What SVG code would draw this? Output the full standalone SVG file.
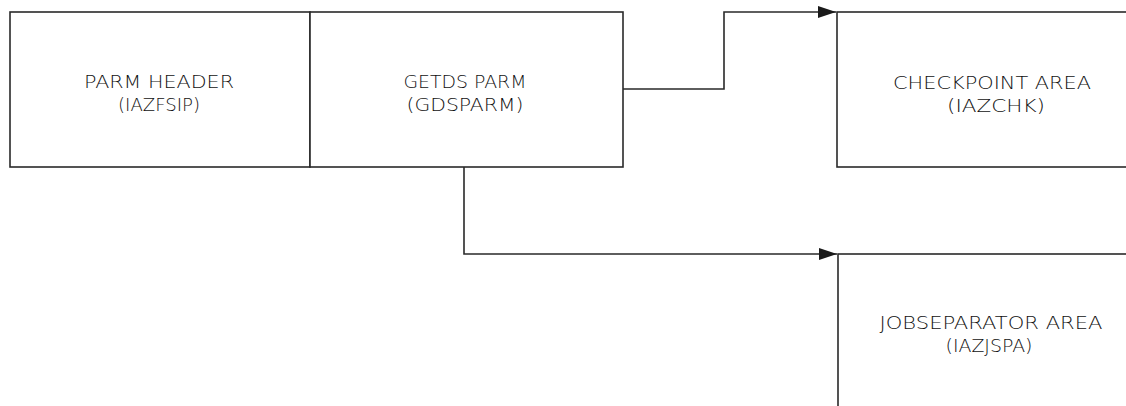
<svg xmlns="http://www.w3.org/2000/svg" width="1126" height="406" viewBox="0 0 1126 406">
<style>
.box{fill:#fff;stroke:#2a2a2a;stroke-width:1.6}
.conn{fill:none;stroke:#2a2a2a;stroke-width:1.6}
.lbl{font-family:"DejaVu Sans","Liberation Sans",sans-serif;font-weight:200;font-size:18.5px;fill:#111;text-anchor:middle}
</style>
<defs>
<marker id="arr" markerUnits="userSpaceOnUse" markerWidth="20" markerHeight="14" refX="18" refY="6" orient="auto">
<path d="M0,0 L18,6 L0,12 z" fill="#1a1a1a"/>
</marker>
</defs>
<rect width="1126" height="406" fill="#fff"/>
<g id="connectors">
<path class="conn" d="M623,89 H724 V12 H836" marker-end="url(#arr)"/>
<path class="conn" d="M464,167 V254 H837" marker-end="url(#arr)"/>
</g>
<g id="parm-header">
<rect class="box" x="10" y="12" width="300" height="155"/>
<text class="lbl" x="159" y="88" textLength="150" lengthAdjust="spacingAndGlyphs">PARM  HEADER</text>
<text class="lbl" x="159" y="110.5" textLength="82" lengthAdjust="spacingAndGlyphs">(IAZFSIP)</text>
</g>
<g id="getds-parm">
<rect class="box" x="310" y="12" width="313" height="155"/>
<text class="lbl" x="465" y="88" textLength="123" lengthAdjust="spacingAndGlyphs">GETDS  PARM</text>
<text class="lbl" x="465" y="110.5" textLength="117" lengthAdjust="spacingAndGlyphs">(GDSPARM)</text>
</g>
<g id="checkpoint-area">
<rect class="box" x="837" y="12" width="400" height="155"/>
<text class="lbl" x="992" y="89" textLength="198" lengthAdjust="spacingAndGlyphs">CHECKPOINT  AREA</text>
<text class="lbl" x="996" y="111.5" textLength="98" lengthAdjust="spacingAndGlyphs">(IAZCHK)</text>
</g>
<g id="jobseparator-area">
<rect class="box" x="838" y="254" width="400" height="300"/>
<text class="lbl" x="991" y="329" textLength="223" lengthAdjust="spacingAndGlyphs">JOBSEPARATOR  AREA</text>
<text class="lbl" x="989" y="351.5" textLength="87" lengthAdjust="spacingAndGlyphs">(IAZJSPA)</text>
</g>
</svg>
